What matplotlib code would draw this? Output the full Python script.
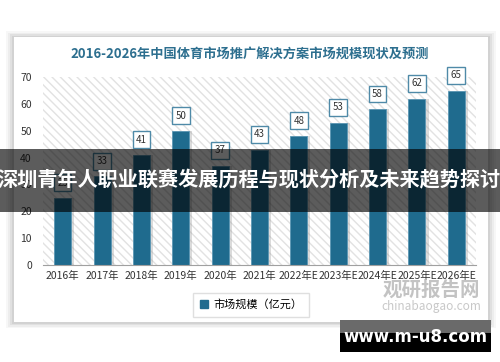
import matplotlib
matplotlib.use('Agg')
import matplotlib.pyplot as plt
from matplotlib.patches import Rectangle

plt.rcParams['font.family'] = ['Noto Sans CJK SC', 'DejaVu Sans']

# data
years = ['2016年', '2017年', '2018年', '2019年', '2020年', '2021年',
         '2022年E', '2023年E', '2024年E', '2025年E', '2026年E']
market_size = [25, 33, 41, 50, 37, 43, 48, 53, 58, 62, 65]

title = '2016-2026年中国体育市场推广解决方案市场规模现状及预测'
legend_label = '市场规模（亿元）'
banner_text = '深圳青年人职业联赛发展历程与现状分析及未来趋势探讨'

bar_color = '#1f6b8e'

fig = plt.figure(figsize=(5, 3.62), dpi=100)
fig.patch.set_facecolor('white')

# card with soft shadow
for i, a in enumerate([0.03, 0.04, 0.05, 0.06]):
    d = (4 - i) * 0.004
    fig.patches.append(Rectangle((0.028 - d, 0.11 - d), 0.948 + 2 * d, 0.787 + 2 * d,
                                 transform=fig.transFigure, color='black', alpha=a,
                                 lw=0, zorder=-3))
fig.patches.append(Rectangle((0.028, 0.11), 0.948, 0.787, transform=fig.transFigure,
                             color='white', lw=0, zorder=-2))

fig.text(0.5, 0.853, title, ha='center', va='center', fontsize=9.5,
         fontweight='bold', color='#2d6f8f')

ax = fig.add_axes([0.086, 0.268, 0.866, 0.519])
ax.set_facecolor('none')
x = list(range(len(years)))

# hatched background
ax.add_patch(Rectangle((-0.5, 0), 11, 70, facecolor='white', edgecolor='#e2e2e2',
                       hatch='\\\\\\\\', lw=0, zorder=0))

# shadows
ax.bar([i + 0.07 for i in x], market_size, width=0.45, color='#9a9a9a', alpha=0.35,
       zorder=1)
ax.bar(x, market_size, width=0.43, color=bar_color, edgecolor='#5b97b4', lw=0.6,
       zorder=2)

for i, v in enumerate(market_size):
    ax.annotate(str(v), (i, v), xytext=(0, 11), textcoords='offset points',
                ha='center', va='center', fontsize=7, color='#333333',
                annotation_clip=False, zorder=3,
                bbox=dict(boxstyle='square,pad=0.35', fc='white', ec='#4f8aa8', lw=1))

ax.set_xlim(-0.5, 10.5)
ax.set_ylim(0, 70)
ax.set_yticks(range(0, 71, 10))
ax.set_xticks(x)
ax.set_xticklabels(years, fontsize=7.5, color='#333333')
ax.tick_params(axis='y', labelsize=7.5, labelcolor='#333333', length=0, pad=8)
ax.tick_params(axis='x', length=0, pad=4)
for s in ['top', 'right', 'left']:
    ax.spines[s].set_visible(False)
ax.spines['bottom'].set_color('#a0a0a0')

leg = fig.legend([Rectangle((0, 0), 1, 1, color=bar_color)], [legend_label],
                 loc='center', bbox_to_anchor=(0.502, 0.158), fontsize=8,
                 fancybox=False, edgecolor='#d8d8d8', handlelength=0.7,
                 handleheight=0.7, borderpad=0.6, handletextpad=0.5)
leg.get_frame().set_linewidth(1)

# watermark
fig.text(0.862, 0.199, '观研报告网', ha='center', va='center', fontsize=14,
         fontweight='bold', color='#b5b5b5', alpha=0.8)
fig.text(0.862, 0.153, 'chinabaogao.com', ha='center', va='center', fontsize=8.5,
         color='#bbbbbb', alpha=0.8)

# banner
fig.patches.append(Rectangle((0, 0.414), 1, 0.174, transform=fig.transFigure,
                             color='black', alpha=0.64, lw=0, zorder=5))
fig.text(0.498, 0.502, banner_text, ha='center', va='center', fontsize=14.5,
         fontweight='bold', color='white', zorder=6)

# site box
fig.patches.append(Rectangle((0.68, 0.028), 0.302, 0.088, transform=fig.transFigure,
                             color='black', lw=0, zorder=5))
fig.patches.append(Rectangle((0.68, 0.08), 0.302, 0.036, transform=fig.transFigure,
                             color='#6a6a6a', lw=0, zorder=5))
fig.text(0.831, 0.07, 'www.m-u8.com', ha='center', va='center', fontsize=12,
         fontweight='bold', color='white', zorder=6, family='DejaVu Sans')

fig.savefig('out.png', dpi=100)
